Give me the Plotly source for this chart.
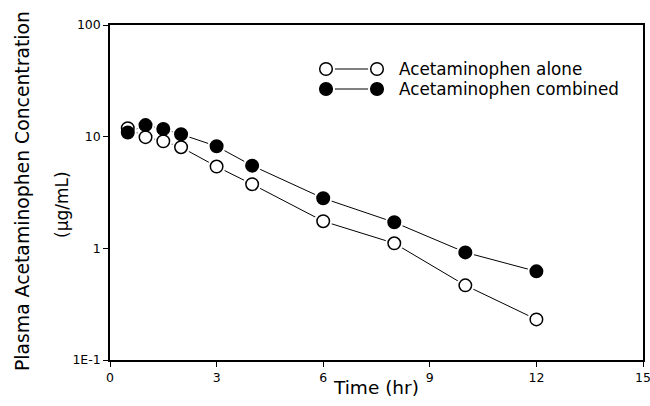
import plotly.graph_objects as go

time_hr = [0.5, 1, 1.5, 2, 3, 4, 6, 8, 10, 12]
alone = [11.9, 9.9, 9.1, 8.05, 5.4, 3.75, 1.75, 1.11, 0.466, 0.231]
combined = [10.9, 12.7, 11.7, 10.5, 8.2, 5.5, 2.81, 1.71, 0.92, 0.622]

x_ticks = [0, 3, 6, 9, 12, 15]
y_ticks = [0.1, 1, 10, 100]
y_ticktext = ["1E-1", "1", "10", "100"]

series_names = ["Acetaminophen alone", "Acetaminophen combined"]

FONT = "DejaVu Sans"

fig = go.Figure()
# connecting lines
for y in (alone, combined):
    fig.add_trace(go.Scatter(x=time_hr, y=y, mode="lines",
                             line=dict(color="black", width=1), showlegend=False,
                             hoverinfo="skip"))
# white halos to create small gaps between lines and markers
for y in (alone, combined):
    fig.add_trace(go.Scatter(x=time_hr, y=y, mode="markers",
                             marker=dict(size=18, color="white", line=dict(width=0)),
                             showlegend=False, hoverinfo="skip"))
# markers
fig.add_trace(go.Scatter(x=time_hr, y=alone, mode="markers", name=series_names[0],
                         marker=dict(size=12.5, color="white", line=dict(color="black", width=1.5)),
                         showlegend=False))
fig.add_trace(go.Scatter(x=time_hr, y=combined, mode="markers", name=series_names[1],
                         marker=dict(size=12.5, color="black", line=dict(color="black", width=1.5)),
                         showlegend=False))

# plot-area pixel geometry
L, R, T, B = 110, 643, 25, 360
def px(xp):
    return (xp - L) / (R - L)
def py(yp):
    return (B - yp) / (B - T)

# manual legend (marker - line - marker)
shapes = []
annotations = []
row_y = [69, 89]
for name, fill, ry in zip(series_names, ["white", "black"], row_y):
    yy = py(ry)
    x1, x2 = px(326), px(377)
    shapes.append(dict(type="line", xref="paper", yref="paper", x0=x1, x1=x2, y0=yy, y1=yy,
                       line=dict(color="black", width=1)))
    for xc in (x1, x2):
        shapes.append(dict(type="circle", xref="paper", yref="paper",
                           xsizemode="pixel", ysizemode="pixel", xanchor=xc, yanchor=yy,
                           x0=-9, x1=9, y0=-9, y1=9,
                           fillcolor="white", line=dict(width=0)))
        shapes.append(dict(type="circle", xref="paper", yref="paper",
                           xsizemode="pixel", ysizemode="pixel", xanchor=xc, yanchor=yy,
                           x0=-6.3, x1=6.3, y0=-6.3, y1=6.3,
                           fillcolor=fill, line=dict(color="black", width=1.5)))

# legend labels
for name, ry in zip(series_names, row_y):
    annotations.append(dict(text=name, xref="paper", yref="paper", x=px(397),
                            y=py(ry), xanchor="left", yanchor="middle", showarrow=False,
                            font=dict(family=FONT, size=16.8, color="black")))

# axis titles
annotations.append(dict(text="Plasma Acetaminophen Concentration", xref="paper", yref="paper",
                        x=px(22), y=py(191), textangle=-90, showarrow=False,
                        xanchor="center", yanchor="middle",
                        font=dict(family=FONT, size=18.8, color="black")))
annotations.append(dict(text="(\u03bcg/mL)", xref="paper", yref="paper",
                        x=px(62), y=py(205), textangle=-90, showarrow=False,
                        xanchor="center", yanchor="middle",
                        font=dict(family=FONT, size=17, color="black")))
annotations.append(dict(text="Time (hr)", xref="paper", yref="paper",
                        x=px(376), y=py(387), showarrow=False,
                        xanchor="center", yanchor="middle",
                        font=dict(family=FONT, size=18.5, color="black")))

fig.update_layout(
    width=650, height=406,
    margin=dict(l=L, r=650 - R, t=T, b=406 - B),
    plot_bgcolor="white", paper_bgcolor="white",
    shapes=shapes, annotations=annotations,
    font=dict(family=FONT, color="black"),
)
fig.update_xaxes(range=[0, 15], tickvals=x_ticks, ticks="outside", ticklen=5,
                 tickcolor="black", showline=True, linecolor="black", linewidth=1.5,
                 mirror=True, showgrid=False, zeroline=False, automargin=False,
                 ticklabeloverflow="allow",
                 tickfont=dict(family=FONT, size=12.5, color="black"))
fig.update_yaxes(type="log", range=[-1, 2], tickvals=y_ticks, ticktext=y_ticktext,
                 ticks="outside", ticklen=5, tickcolor="black", showline=True,
                 linecolor="black", linewidth=1.5, mirror=True, showgrid=False,
                 zeroline=False, automargin=False, ticklabeloverflow="allow",
                 tickfont=dict(family=FONT, size=12.5, color="black"))

fig.write_html("out.html", config={"displayModeBar": False},
               post_script="document.body.style.margin='0';")
